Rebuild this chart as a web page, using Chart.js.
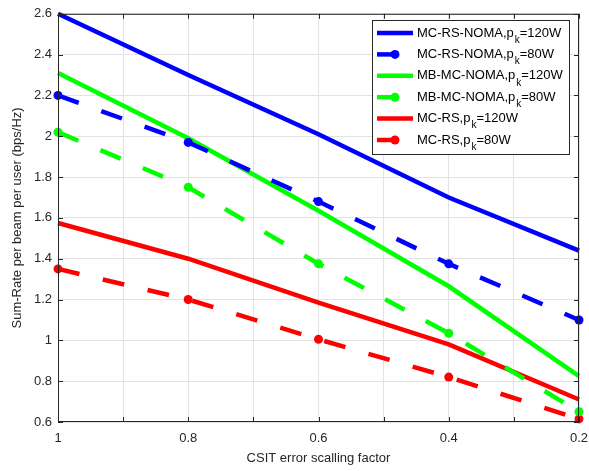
<!DOCTYPE html>
<html>
<head>
<meta charset="utf-8">
<script src="https://cdn.jsdelivr.net/npm/chart.js@4/dist/chart.umd.min.js"></script>
<style>
  html, body { margin: 0; padding: 0; background: #fff; }
  #wrap { width: 589px; height: 471px; }
</style>
</head>
<body>
<div id="wrap"><canvas id="chart" width="589" height="471"></canvas></div>
<script>
// Valores
const csitFactor = [1, 0.8, 0.6, 0.4, 0.2];
const rsNoma120 = [2.60, 2.30, 2.01, 1.70, 1.44];
const rsNoma80 = [2.20, 1.97, 1.68, 1.375, 1.10];
const mbNoma120 = [2.31, 1.99, 1.635, 1.265, 0.825];
const mbNoma80 = [2.02, 1.75, 1.375, 1.035, 0.65];
const mcRs120 = [1.575, 1.40, 1.185, 0.98, 0.71];
const mcRs80 = [1.35, 1.20, 1.005, 0.82, 0.615];

// Legenda: [texto, subscrito, sufixo]
const legendLabels = [
  ['MC-RS-NOMA,p', 'k', '=120W'],
  ['MC-RS-NOMA,p', 'k', '=80W'],
  ['MB-MC-NOMA,p', 'k', '=120W'],
  ['MB-MC-NOMA,p', 'k', '=80W'],
  ['MC-RS,p', 'k', '=120W'],
  ['MC-RS,p', 'k', '=80W']
];

const xTitle = 'CSIT error scalling factor';
const yTitle = 'Sum-Rate per beam per user (bps/Hz)';

const BLUE = '#0000ff';
const GREEN = '#00ff00';
const RED = '#ff0000';
const AXIS = '#262626';
const FONT = '"Liberation Sans", Arial, Helvetica, sans-serif';
const DASH = [22, 24];

function toPoints(values) {
  return values.map((v, i) => ({ x: csitFactor[i], y: v }));
}

function makeSeries(values, color, dashed, idx) {
  return {
    label: legendLabels[idx].join(''),
    data: toPoints(values),
    borderColor: color,
    backgroundColor: color,
    borderWidth: 4.5,
    borderDash: dashed ? DASH : [],
    borderCapStyle: 'butt',
    pointRadius: dashed ? 4.5 : 0,
    pointHoverRadius: dashed ? 4.5 : 0,
    pointBorderWidth: 0,
    pointStyle: 'circle',
    tension: 0,
    clip: false
  };
}

// Caixa do gráfico com ticks para dentro (estilo MATLAB)
const framePlugin = {
  id: 'frame',
  afterDatasetsDraw(chart) {
    const { ctx, chartArea: a, scales } = chart;
    ctx.save();
    ctx.strokeStyle = AXIS;
    ctx.lineWidth = 1;
    ctx.strokeRect(a.left + 0.5, a.top + 0.5, a.right - a.left - 1, a.bottom - a.top - 1);
    const len = 5;
    ctx.beginPath();
    for (let v = 2; v <= 10; v++) {
      const x = Math.round(scales.x.getPixelForValue(v / 10)) + 0.5;
      ctx.moveTo(x, a.bottom); ctx.lineTo(x, a.bottom - len);
      ctx.moveTo(x, a.top); ctx.lineTo(x, a.top + len);
    }
    for (let v = 6; v <= 26; v += 2) {
      const y = Math.round(scales.y.getPixelForValue(v / 10)) + 0.5;
      ctx.moveTo(a.left, y); ctx.lineTo(a.left + len, y);
      ctx.moveTo(a.right, y); ctx.lineTo(a.right - len, y);
    }
    ctx.stroke();
    ctx.restore();
  }
};

// Legenda com subscrito
const legendPlugin = {
  id: 'subLegend',
  afterDraw(chart) {
    const ctx = chart.ctx;
    const box = { x: 372, y: 20, w: 197, h: 134 };
    ctx.save();
    ctx.fillStyle = '#fff';
    ctx.fillRect(box.x, box.y, box.w, box.h);
    ctx.strokeStyle = AXIS;
    ctx.lineWidth = 1;
    ctx.strokeRect(box.x + 0.5, box.y + 0.5, box.w, box.h);

    chart.data.datasets.forEach((ds, i) => {
      const cy = 33 + i * 21.4;
      const dashed = ds.borderDash.length > 0;
      ctx.strokeStyle = ds.borderColor;
      ctx.lineWidth = 4.5;
      ctx.lineCap = 'butt';
      ctx.beginPath();
      ctx.moveTo(377, cy);
      ctx.lineTo(dashed ? 395 : 413, cy);
      ctx.stroke();
      if (dashed) {
        ctx.fillStyle = ds.borderColor;
        ctx.beginPath();
        ctx.arc(395, cy, 4.5, 0, Math.PI * 2);
        ctx.fill();
      }
      const [main, sub, rest] = legendLabels[i];
      ctx.fillStyle = '#000';
      ctx.textBaseline = 'middle';
      ctx.font = '13px ' + FONT;
      let x = 417;
      ctx.fillText(main, x, cy);
      x += ctx.measureText(main).width + 1;
      ctx.font = '10px ' + FONT;
      ctx.fillText(sub, x, cy + 7);
      x += ctx.measureText(sub).width;
      ctx.font = '13px ' + FONT;
      ctx.fillText(rest, x, cy);
    });
    ctx.restore();
  }
};

new Chart(document.getElementById('chart'), {
  type: 'line',
  data: {
    datasets: [
      makeSeries(rsNoma120, BLUE, false, 0),
      makeSeries(rsNoma80, BLUE, true, 1),
      makeSeries(mbNoma120, GREEN, false, 2),
      makeSeries(mbNoma80, GREEN, true, 3),
      makeSeries(mcRs120, RED, false, 4),
      makeSeries(mcRs80, RED, true, 5)
    ]
  },
  options: {
    responsive: false,
    animation: false,
    events: [],
    layout: { padding: { left: 0, right: 10, top: 12, bottom: 0 } },
    plugins: {
      legend: { display: false },
      tooltip: { enabled: false }
    },
    scales: {
      x: {
        type: 'linear',
        reverse: true,
        min: 0.2,
        max: 1,
        afterBuildTicks(scale) {
          scale.ticks = csitFactor.concat([0.9, 0.7, 0.5, 0.3]).map(v => ({ value: v }));
        },
        afterFit(scale) { scale.height = 49; },
        grid: { color: '#e3e3e3', lineWidth: 1, drawTicks: false },
        border: { display: false },
        ticks: {
          padding: 9,
          color: AXIS,
          font: { family: FONT, size: 13 },
          maxRotation: 0,
          autoSkip: false,
          callback: v => (Math.round(v * 10) % 2 === 0 ? String(parseFloat(v.toFixed(1))) : '')
        },
        title: {
          display: true,
          text: xTitle,
          color: AXIS,
          font: { family: FONT, size: 13 },
          padding: { top: 2, bottom: 5 }
        }
      },
      y: {
        min: 0.6,
        max: 2.6,
        afterFit(scale) { scale.width = 58; },
        grid: { color: '#e3e3e3', lineWidth: 1, drawTicks: false },
        border: { display: false },
        ticks: {
          stepSize: 0.2,
          padding: 6,
          color: AXIS,
          font: { family: FONT, size: 13 },
          callback: v => String(parseFloat(v.toFixed(1)))
        },
        title: {
          display: true,
          text: yTitle,
          color: AXIS,
          font: { family: FONT, size: 13 },
          padding: { top: 10, bottom: 4 }
        }
      }
    }
  },
  plugins: [framePlugin, legendPlugin]
});
</script>
</body>
</html>
